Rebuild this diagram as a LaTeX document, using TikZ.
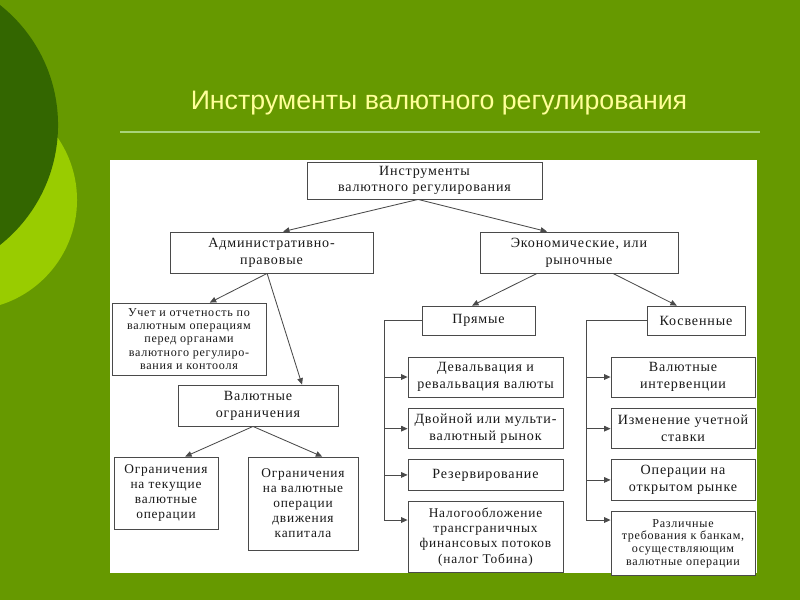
\documentclass[tikz,border=0pt]{standalone}
\usepackage{fontspec}
\setmainfont{Liberation Serif}[LetterSpace=6.0]
\newfontfamily\titlefont{Liberation Sans}
\usepackage{xcolor}
\usetikzlibrary{arrows.meta, positioning}
\definecolor{bggreen}{HTML}{669900}
\definecolor{darkgreen}{HTML}{336600}
\definecolor{lightgreen}{HTML}{99CC00}
\definecolor{rulegreen}{HTML}{A8D47A}
\definecolor{titleyellow}{HTML}{FFFF99}
\definecolor{boxgray}{HTML}{4A4A4A}

\begin{document}
\begin{tikzpicture}[
    x=0.025cm, y=-0.025cm,
    box/.style={draw=boxgray, line width=0.6pt, fill=white, align=center, inner sep=1pt,
        text=black!90, font=\fontsize{10}{12}\selectfont},
    small/.style={font=\fontsize{8.6}{9.4}\selectfont},
    arrow/.style={-{Triangle[length=1.6mm, width=1.4mm]}, draw=boxgray, line width=0.6pt},
    bus/.style={draw=boxgray, line width=0.6pt}
]
\useasboundingbox (0,0) rectangle (800,600);
\fill[bggreen] (0,0) rectangle (800,600);
\begin{scope}
\clip (0,0) rectangle (800,600);
\fill[lightgreen] (-33,200) circle [radius=2.75cm];
\fill[darkgreen] (-95,125) circle [radius=3.825cm];
\end{scope}

% title
\node[font=\titlefont\fontsize{19}{22}\selectfont, text=titleyellow] (ttl) at (439,103) {Инструменты валютного регулирования};
\draw[rulegreen, line width=1.4pt] (120,132) -- (760,132);
\fill[white] (110,160) rectangle (757,573);

% upper levels
\node[box, minimum width=5.875cm, minimum height=0.925cm, font=\fontsize{10}{10.9}\selectfont] (top) at (424.5,180.5) {Инструменты\\валютного регулирования};
\node[box, minimum width=5.075cm, minimum height=1.025cm] (adm) at (271.5,252.5) {Административно-\\правовые};
\node[box, minimum width=4.95cm, minimum height=1.025cm] (eco) at (579,252.5) {Экономические, или\\рыночные};

% administrative branch
\node[box, small, minimum width=3.85cm, minimum height=1.8cm] (uch) at (189,339) {Учет и отчетность по\\валютным операциям\\перед органами\\валютного регулиро-\\вания и контооля};
\node[box, minimum width=4cm, minimum height=1.025cm] (vog) at (258,405.5) {Валютные\\ограничения};
\node[box, minimum width=2.6cm, minimum height=1.8cm, font=\fontsize{9.5}{10.7}\selectfont] (og1) at (166,493) {Ограничения\\на текущие\\валютные\\операции};
\node[box, minimum width=2.75cm, minimum height=2.325cm, font=\fontsize{9.5}{10.7}\selectfont] (og2) at (303,503.5) {Ограничения\\на валютные\\операции\\движения\\капитала};

% economic branch
\node[box, minimum width=2.825cm, minimum height=0.725cm] (pry) at (478.5,320.5) {Прямые};
\node[box, minimum width=2.45cm, minimum height=0.725cm] (kos) at (696,320.5) {Косвенные};

\node[box, minimum width=3.875cm, minimum height=1cm] (dev) at (485.5,377) {Девальвация и\\ревальвация валюты};
\node[box, minimum width=3.875cm, minimum height=1cm, below=0.27cm of dev] (dvr) {Двойной или мульти-\\валютный рынок};
\node[box, minimum width=3.875cm, minimum height=0.75cm, below=0.26cm of dvr] (rez) {Резервирование};
\node[box, minimum width=3.875cm, minimum height=1.775cm, below=0.27cm of rez, font=\fontsize{9.5}{10.7}\selectfont] (nal) {Налогообложение\\трансграничных\\финансовых потоков\\(налог Тобина)};

\node[box, minimum width=3.6cm, minimum height=1cm] (int) at (683,377) {Валютные\\интервенции};
\node[box, minimum width=3.6cm, minimum height=1cm, below=0.27cm of int] (izm) {Изменение учетной\\ставки};
\node[box, minimum width=3.6cm, minimum height=1cm, below=0.26cm of izm] (opr) {Операции на\\открытом рынке};
\node[box, minimum width=3.6cm, minimum height=1.6cm, below=0.27cm of opr, font=\fontsize{8.6}{9}\selectfont] (trb) {Различные\\требования к банкам,\\осуществляющим\\валютные операции};

% connectors
\draw[arrow] ([xshift=-0.16cm]top.south) -- ([xshift=0.29cm]adm.north);
\draw[arrow] ([xshift=-0.16cm]top.south) -- ([xshift=-0.8cm]eco.north);
\draw[arrow] ([xshift=-0.11cm]adm.south) -- ([xshift=0.52cm]uch.north);
\draw[arrow] ([xshift=-0.11cm]adm.south) -- ([xshift=1.1cm]vog.north);
\draw[arrow] ([xshift=-0.125cm]vog.south) -- ([xshift=0.48cm]og1.north);
\draw[arrow] ([xshift=-0.125cm]vog.south) -- ([xshift=0.48cm]og2.north);
\draw[arrow] ([xshift=-1.05cm]eco.south) -- ([xshift=-0.16cm]pry.north);
\draw[arrow] ([xshift=0.85cm]eco.south) -- ([xshift=-0.48cm]kos.north);

\coordinate (pb) at (384,520);
\draw[bus] (pry.west) -| (pb);
\draw[arrow] (pb |- dev.west) -- (dev.west);
\draw[arrow] (pb |- dvr.west) -- (dvr.west);
\draw[arrow] (pb |- rez.west) -- (rez.west);
\draw[arrow] (pb) -- (pb -| nal.west);

\coordinate (kb) at (586,520);
\draw[bus] (kos.west) -| (kb);
\draw[arrow] (kb |- int.west) -- (int.west);
\draw[arrow] (kb |- izm.west) -- (izm.west);
\draw[arrow] (kb |- opr.west) -- (opr.west);
\draw[arrow] (kb) -- (kb -| trb.west);
\end{tikzpicture}
\end{document}
